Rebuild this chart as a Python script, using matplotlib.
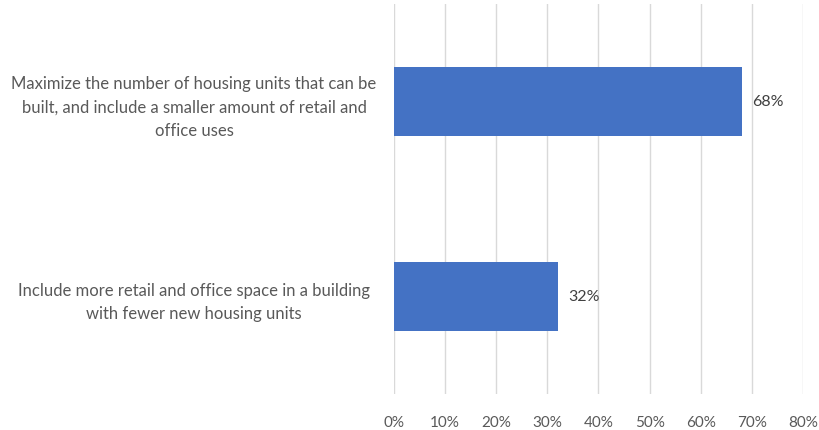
import matplotlib.pyplot as plt
from matplotlib.ticker import PercentFormatter

plt.rcParams['font.family'] = ['Lato', 'DejaVu Sans']

categories = [
    "Maximize the number of housing units that can be\nbuilt, and include a smaller amount of retail and\noffice uses",
    "Include more retail and office space in a building\nwith fewer new housing units",
]
values = [0.68, 0.32]
ticks = [0, 0.1, 0.2, 0.3, 0.4, 0.5, 0.6, 0.7, 0.8]

grey = "#595959"

fig = plt.figure(figsize=(8.19, 4.31), dpi=100)
ax = fig.add_axes([0.481, 0.0835, 0.4995, 0.905])

ypos = range(len(categories))
bars = ax.barh(ypos, values, height=0.35, color="#4472C4", zorder=3)
ax.set_ylim(1.5, -0.5)
ax.set_xlim(0, 0.8)

ax.set_yticks(list(ypos))
ax.set_yticklabels(categories, fontsize=12, color=grey, ha="center",
                   linespacing=1.55)
ax.tick_params(axis="y", length=0, pad=144)

ax.set_xticks(ticks)
ax.xaxis.set_major_formatter(PercentFormatter(1.0, decimals=0))
ax.tick_params(axis="x", length=0, labelsize=11, labelcolor=grey, pad=15)

ax.grid(axis="x", color="#D9D9D9", linewidth=1, zorder=0)
for s in ax.spines.values():
    s.set_visible(False)

# value labels just past the end of each bar
for b, v in zip(bars, values):
    ax.text(v + 0.021, b.get_y() + b.get_height() / 2, f"{v:.0%}",
            va="center", ha="left", fontsize=11.5, color="#404040")

fig.savefig("out.png", dpi=100)
